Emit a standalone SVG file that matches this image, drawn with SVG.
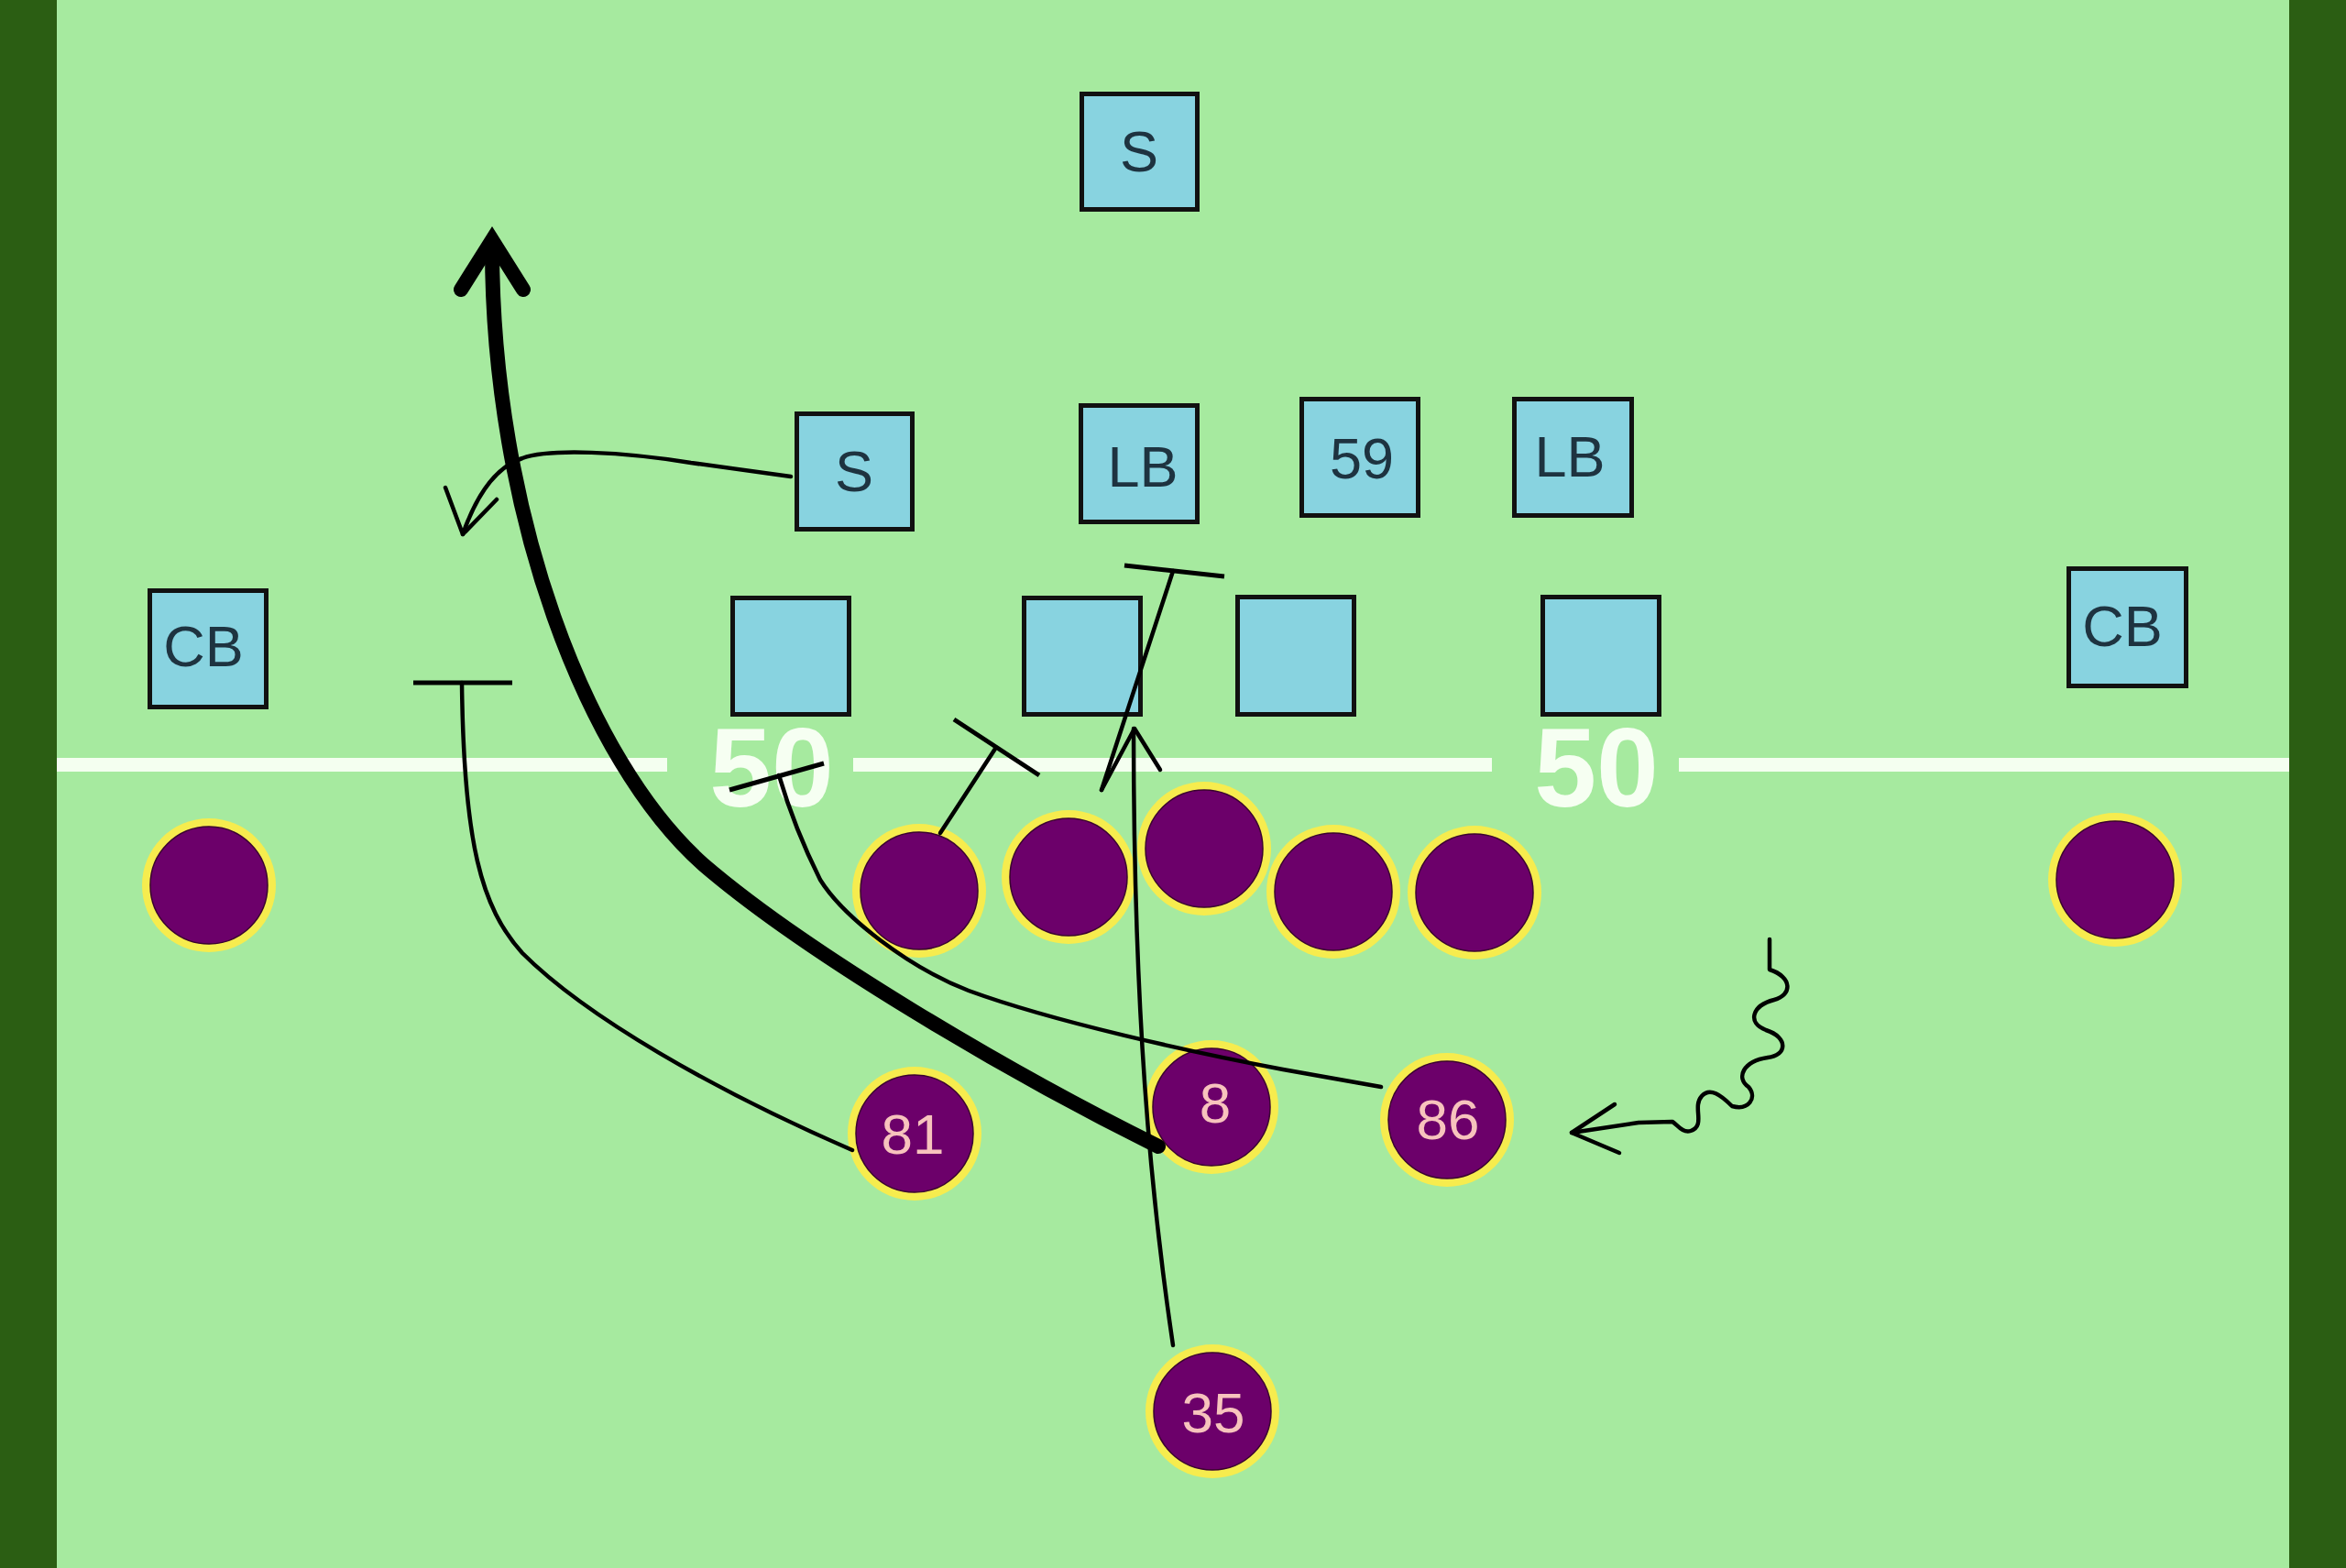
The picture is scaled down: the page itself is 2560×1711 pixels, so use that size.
<svg xmlns="http://www.w3.org/2000/svg" width="2560" height="1711" viewBox="0 0 2560 1711">
<style>
.field{fill:#a6ea9f}
.band{fill:#2b5e13}
.yard{fill:#f4fff0}
.yardnum{fill:#f6fff2;font-family:"Liberation Sans",Arial,sans-serif;font-weight:bold;font-size:122px;text-anchor:middle}
.box{fill:#88d3e0;stroke:#111;stroke-width:5}
.blabel{fill:#1e3340;font-family:"Liberation Sans",Arial,sans-serif;font-size:63px;text-anchor:middle}
.halo{fill:#f6ec4e}
.disc{fill:#6c006a;stroke:#3a0030;stroke-width:1.5}
.clabel{fill:#f7c3bd;font-family:"Liberation Sans",Arial,sans-serif;font-size:62px;text-anchor:middle}
.route{fill:none;stroke:#000;stroke-width:4.5;stroke-linecap:round;stroke-linejoin:round}
.block{fill:none;stroke:#000;stroke-width:5;stroke-linecap:butt}
.run{fill:none;stroke:#000;stroke-width:16;stroke-linecap:round;stroke-linejoin:round}
</style>
<rect class="field" x="0" y="0" width="2560" height="1711"/>
<rect class="band" x="0" y="0" width="62" height="1711"/>
<rect class="band" x="2498" y="0" width="62" height="1711"/>
<g id="yardline">
<rect class="yard" x="62" y="827" width="666" height="15"/>
<rect class="yard" x="931" y="827" width="697" height="15"/>
<rect class="yard" x="1832" y="827" width="666" height="15"/>
<text class="yardnum" x="842" y="880">50</text>
<text class="yardnum" x="1742" y="880">50</text>
</g>
<g id="defense">
<g id="d-s-deep"><rect class="box" x="1180.5" y="102.5" width="126" height="126"/><text class="blabel" x="1243" y="187">S</text></g>
<g id="d-s"><rect class="box" x="869.5" y="451.5" width="126" height="126"/><text class="blabel" x="932" y="536">S</text></g>
<g id="d-lb-mid"><rect class="box" x="1179.5" y="442.5" width="127" height="127"/><text class="blabel" x="1247" y="531">LB</text></g>
<g id="d-59"><rect class="box" x="1420.5" y="435.5" width="127" height="127"/><text class="blabel" x="1486" y="522">59</text></g>
<g id="d-lb-right"><rect class="box" x="1652.5" y="435.5" width="128" height="127"/><text class="blabel" x="1713" y="520">LB</text></g>
<g id="d-cb-left"><rect class="box" x="163.5" y="644.5" width="127" height="127"/><text class="blabel" x="222" y="727">CB</text></g>
<g id="d-cb-right"><rect class="box" x="2257.5" y="620.5" width="128" height="128"/><text class="blabel" x="2316" y="705">CB</text></g>
<g id="d-dl1"><rect class="box" x="799.5" y="652.5" width="127" height="127"/></g>
<g id="d-dl2"><rect class="box" x="1117.5" y="652.5" width="127" height="127"/></g>
<g id="d-dl3"><rect class="box" x="1350.5" y="651.5" width="127" height="128"/></g>
<g id="d-dl4"><rect class="box" x="1683.5" y="651.5" width="127" height="128"/></g>
</g>
<g id="offense">
<g id="o-wr-left"><circle class="halo" cx="228" cy="966" r="73"/><circle class="disc" cx="228" cy="966" r="64"/></g>
<g id="o-ol1"><circle class="halo" cx="1003" cy="972" r="73"/><circle class="disc" cx="1003" cy="972" r="64"/></g>
<g id="o-ol2"><circle class="halo" cx="1166" cy="957" r="73"/><circle class="disc" cx="1166" cy="957" r="64"/></g>
<g id="o-ol3"><circle class="halo" cx="1314" cy="926" r="73"/><circle class="disc" cx="1314" cy="926" r="64"/></g>
<g id="o-ol4"><circle class="halo" cx="1455" cy="973" r="73"/><circle class="disc" cx="1455" cy="973" r="64"/></g>
<g id="o-ol5"><circle class="halo" cx="1609" cy="974" r="73"/><circle class="disc" cx="1609" cy="974" r="64"/></g>
<g id="o-wr-right"><circle class="halo" cx="2308" cy="960" r="73"/><circle class="disc" cx="2308" cy="960" r="64"/></g>
<g id="o-81"><circle class="halo" cx="998" cy="1237" r="73"/><circle class="disc" cx="998" cy="1237" r="64"/><text class="clabel" x="996" y="1259">81</text></g>
<g id="o-8"><circle class="halo" cx="1322" cy="1208" r="73"/><circle class="disc" cx="1322" cy="1208" r="64"/><text class="clabel" x="1326" y="1225">8</text></g>
<g id="o-86"><circle class="halo" cx="1579" cy="1222" r="73"/><circle class="disc" cx="1579" cy="1222" r="64"/><text class="clabel" x="1580" y="1243">86</text></g>
<g id="o-35"><circle class="halo" cx="1323" cy="1540" r="73"/><circle class="disc" cx="1323" cy="1540" r="64"/><text class="clabel" x="1324" y="1563">35</text></g>
</g>
<g id="connectors">
<path class="route" d="M 930 1255 C 780 1190, 640 1110, 570 1040 C 525 990, 506 920, 504 745"/>
<path class="block" d="M 451 745 L 559 745"/>
<path class="route" d="M 863 520 L 754 505 C 680 493, 600 489, 570 500 C 540 510, 520 540, 505 583"/>
<path class="route" d="M 486 532 L 505 583 L 542 545"/>
<path class="route" d="M 1026 909 L 1086 817"/>
<path class="block" d="M 1041 785 L 1134 846"/>
<path class="route" d="M 1507 1186 L 1400 1167 C 1300 1148, 1150 1115, 1057 1081 C 990 1055, 920 1000, 895 960 C 875 920, 860 880, 850 846"/>
<path class="block" d="M 796 862 L 899 833"/>
<path class="route" d="M 1280 1468 C 1255 1300, 1237 1100, 1237 795"/>
<path class="route" d="M 1202 862 L 1238 795 L 1266 840"/>
<path class="route" d="M 1202 862 L 1280 623"/>
<path class="block" d="M 1227 617 L 1336 629"/>
<path class="route" d="M 1931 1025 L 1931 1058 C 1956 1066, 1956 1086, 1936 1091 C 1912 1097, 1906 1116, 1927 1124 C 1952 1132, 1950 1152, 1929 1154 C 1902 1158, 1894 1176, 1908 1186 C 1918 1198, 1908 1212, 1890 1207 C 1878 1195, 1866 1186, 1857 1196 C 1846 1208, 1862 1228, 1845 1234 C 1836 1237, 1830 1227, 1825 1224 L 1788 1225 L 1715 1236"/>
<path class="route" d="M 1762 1205 L 1715 1236 L 1767 1258"/>
<path class="run" d="M 1264 1251 C 1100 1170, 880 1040, 767 943 C 640 830, 537 560, 537 270"/>
<path class="run" style="stroke-linejoin:miter" d="M 503 316 L 537 262 L 571 316"/>
</g>
</svg>
